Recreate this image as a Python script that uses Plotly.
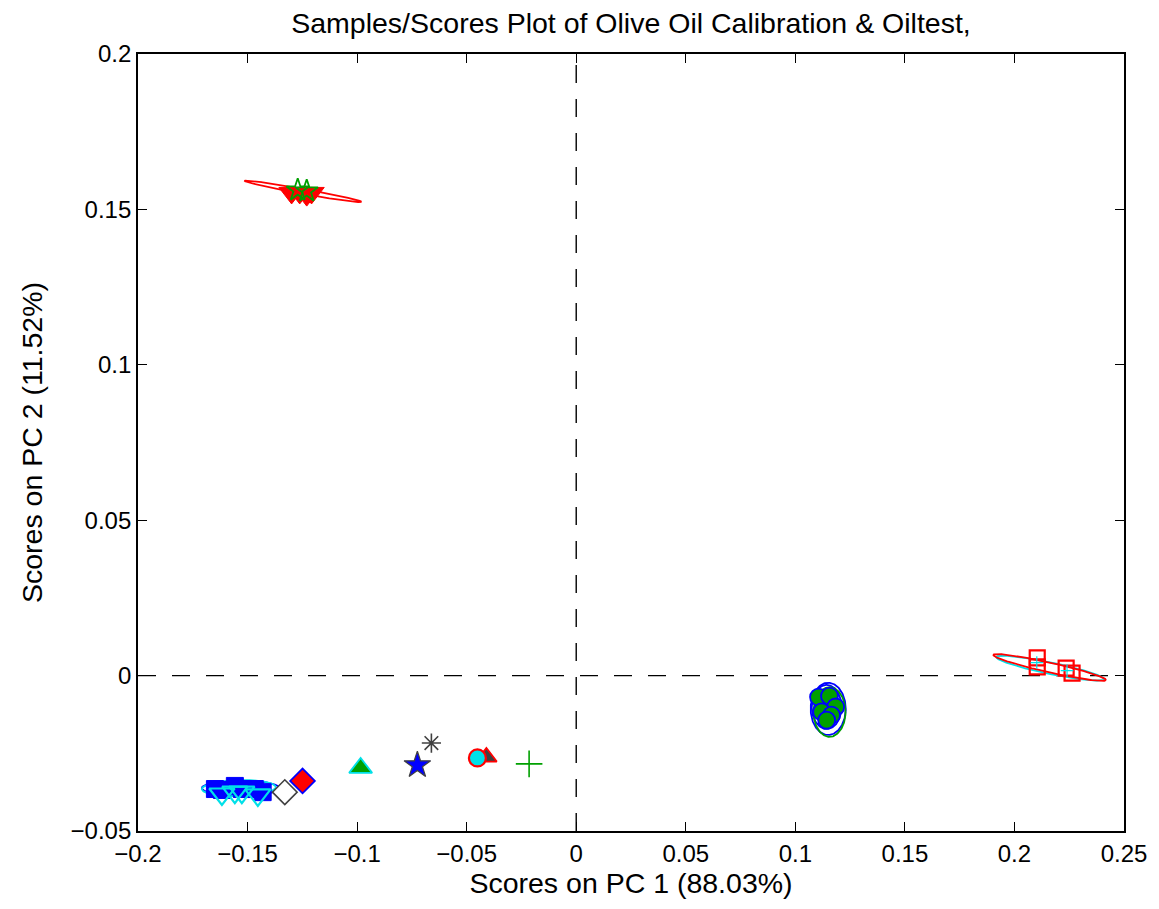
import numpy as np
import plotly.graph_objects as go

# ---------------- data ----------------
title = "Samples/Scores Plot of Olive Oil Calibration &amp; Oiltest,"
xlabel = "Scores on PC 1 (88.03%)"
ylabel = "Scores on PC 2 (11.52%)"

x_ticks = [-0.2, -0.15, -0.1, -0.05, 0, 0.05, 0.1, 0.15, 0.2, 0.25]
x_ticktext = ["\u22120.2", "\u22120.15", "\u22120.1", "\u22120.05", "0", "0.05", "0.1", "0.15", "0.2", "0.25"]
y_ticks = [-0.05, 0, 0.05, 0.1, 0.15, 0.2]
y_ticktext = ["\u22120.05", "0", "0.05", "0.1", "0.15", "0.2"]

# class: red triangles (top-left)
red_tri_x = [-0.1299, -0.1262, -0.1230, -0.1208]
red_tri_y = [0.1553, 0.1553, 0.1546, 0.1553]
green_star_x = [-0.1271, -0.1230]
green_star_y = [0.1562, 0.1559]

# class: blue squares and cyan triangles (bottom-left)
blue_sq_x = [-0.1649, -0.1617, -0.1558, -0.1526, -0.1467, -0.1431]
blue_sq_y = [-0.0365, -0.0368, -0.0355, -0.0365, -0.0365, -0.0375]
cyan_tri_x = [-0.1617, -0.1558, -0.1526, -0.1453]
cyan_tri_y = [-0.0381, -0.0375, -0.0375, -0.0384]

# single test samples
white_dia = (-0.1330, -0.0375)
red_dia = (-0.1249, -0.0339)
green_tri = (-0.0984, -0.0297)
blue_star = (-0.0725, -0.0288)
gray_ast = (-0.0661, -0.0217)
cyan_circ = (-0.0451, -0.0265)
gray_tri = (-0.0410, -0.0262)
green_plus = (-0.0215, -0.0284)

# class: green circles (right middle)
green_circ_x = [0.1106, 0.1156, 0.1184, 0.1120, 0.1165, 0.1143]
green_circ_y = [-0.0069, -0.0066, -0.0101, -0.0117, -0.0127, -0.0143]

# class: red squares (right)
red_sq_x = [0.2104, 0.2104, 0.2236, 0.2263]
red_sq_y = [0.0057, 0.0028, 0.0024, 0.0008]
cyan_pl_x = [0.2102, 0.2240]
cyan_pl_y = [0.0042, 0.0016]

# confidence ellipses: centre, major half-vector, minor half-vector (data units)
ellipses = [
    # (cx, cy, ux, uy, vx, vy, colour)
    (-0.1246, 0.1558, 0.02664, -0.00338, 0.0, 0.0008, "#ff0000"),
    (-0.1531, -0.0362, 0.01776, 0.0, 0.0, 0.0024, "#0000ff"),
    (-0.1540, -0.0362, 0.01685, 0.0003, 0.0, 0.0026, "#00e0e8"),
    (0.1150, -0.0107, 0.0080, 0.0, 0.0, 0.0084, "#0000ff"),
    (0.1143, -0.0101, 0.0068, 0.0, 0.0, 0.0071, "#0000ff"),
    (0.1156, -0.0117, 0.0073, 0.0, 0.0, 0.0080, "#00a000"),
    (0.2163, 0.0024, 0.02459, -0.00354, 0.0, 0.0019, "#00e0e8"),
    (0.2161, 0.0026, 0.02573, -0.00402, 0.0, 0.0016, "#ff0000"),
]

RED = "#ff0000"
GREEN = "#00a000"
BLUE = "#0000ff"
CYAN = "#00e0e8"
GRAY = "#404040"

fig = go.Figure()

t = np.linspace(0, 2 * np.pi, 200)
for cx, cy, ux, uy, vx, vy, col in ellipses:
    fig.add_trace(go.Scatter(
        x=cx + ux * np.cos(t) + vx * np.sin(t),
        y=cy + uy * np.cos(t) + vy * np.sin(t),
        mode="lines", line=dict(color=col, width=1.8), hoverinfo="skip"))


def pts(x, y, symbol, size, fill, edge, lw):
    fig.add_trace(go.Scatter(
        x=x, y=y, mode="markers",
        marker=dict(symbol=symbol, size=size, color=fill,
                    line=dict(color=edge, width=lw))))


pts(red_tri_x, red_tri_y, "triangle-down", 22, RED, RED, 1)
pts(green_star_x, green_star_y, "star-open", 17, GREEN, GREEN, 1.8)

pts(blue_sq_x, blue_sq_y, "square", 17, BLUE, BLUE, 1)
pts(cyan_tri_x, cyan_tri_y, "triangle-down-open", 22, CYAN, CYAN, 2.2)

pts([white_dia[0]], [white_dia[1]], "diamond", 19, "white", GRAY, 1.6)
pts([red_dia[0]], [red_dia[1]], "diamond", 19, RED, BLUE, 1.8)
pts([green_tri[0]], [green_tri[1]], "triangle-up", 20, GREEN, CYAN, 1.8)
pts([blue_star[0]], [blue_star[1]], "star", 20, BLUE, GRAY, 1.2)
pts([gray_ast[0]], [gray_ast[1]], "asterisk-open", 16, GRAY, GRAY, 1.6)
pts([gray_tri[0]], [gray_tri[1]], "triangle-up", 18, GRAY, RED, 1.8)
pts([cyan_circ[0]], [cyan_circ[1]], "circle", 17, CYAN, RED, 2.2)
pts([green_plus[0]], [green_plus[1]], "cross-thin-open", 19, GREEN, GREEN, 1.6)

pts(green_circ_x, green_circ_y, "circle", 17, GREEN, BLUE, 1.8)
pts(red_sq_x, red_sq_y, "square-open", 15, RED, RED, 2.2)
pts(cyan_pl_x, cyan_pl_y, "cross-thin-open", 9, CYAN, CYAN, 1.2)

# dashed zero lines
fig.add_shape(type="line", xref="x", yref="paper", x0=0, x1=0, y0=0, y1=1,
              line=dict(color="black", width=1.4, dash="18px,16px"), layer="below")
fig.add_shape(type="line", xref="paper", yref="y", x0=0, x1=1, y0=0, y1=0,
              line=dict(color="black", width=1.4, dash="18px,16px"), layer="below")

FONT = "Liberation Sans, Arial, Helvetica, sans-serif"
LAB = 28.5
axis_common = dict(showgrid=False, zeroline=False, showline=True, linecolor="black",
                   linewidth=1.8, mirror="ticks", ticks="inside", ticklen=9,
                   tickwidth=1.2, tickcolor="black",
                   tickfont=dict(family=FONT, size=24, color="black"))

fig.update_layout(
    width=1159, height=909,
    paper_bgcolor="white", plot_bgcolor="white",
    showlegend=False,
    margin=dict(l=138, r=33, t=54, b=78),
    title=dict(text=title, xref="paper", x=0.5, xanchor="center", y=0.975, yanchor="middle",
               font=dict(family=FONT, size=LAB, color="black")),
    xaxis=dict(range=[-0.2, 0.25], tickvals=x_ticks, ticktext=x_ticktext,
               title=dict(text=xlabel, font=dict(family=FONT, size=LAB, color="black"), standoff=2),
               **axis_common),
    yaxis=dict(range=[-0.05, 0.2], tickvals=y_ticks, ticktext=y_ticktext,
               title=dict(text=ylabel, font=dict(family=FONT, size=LAB, color="black"), standoff=20),
               **axis_common),
)

fig.write_html("out.html")
